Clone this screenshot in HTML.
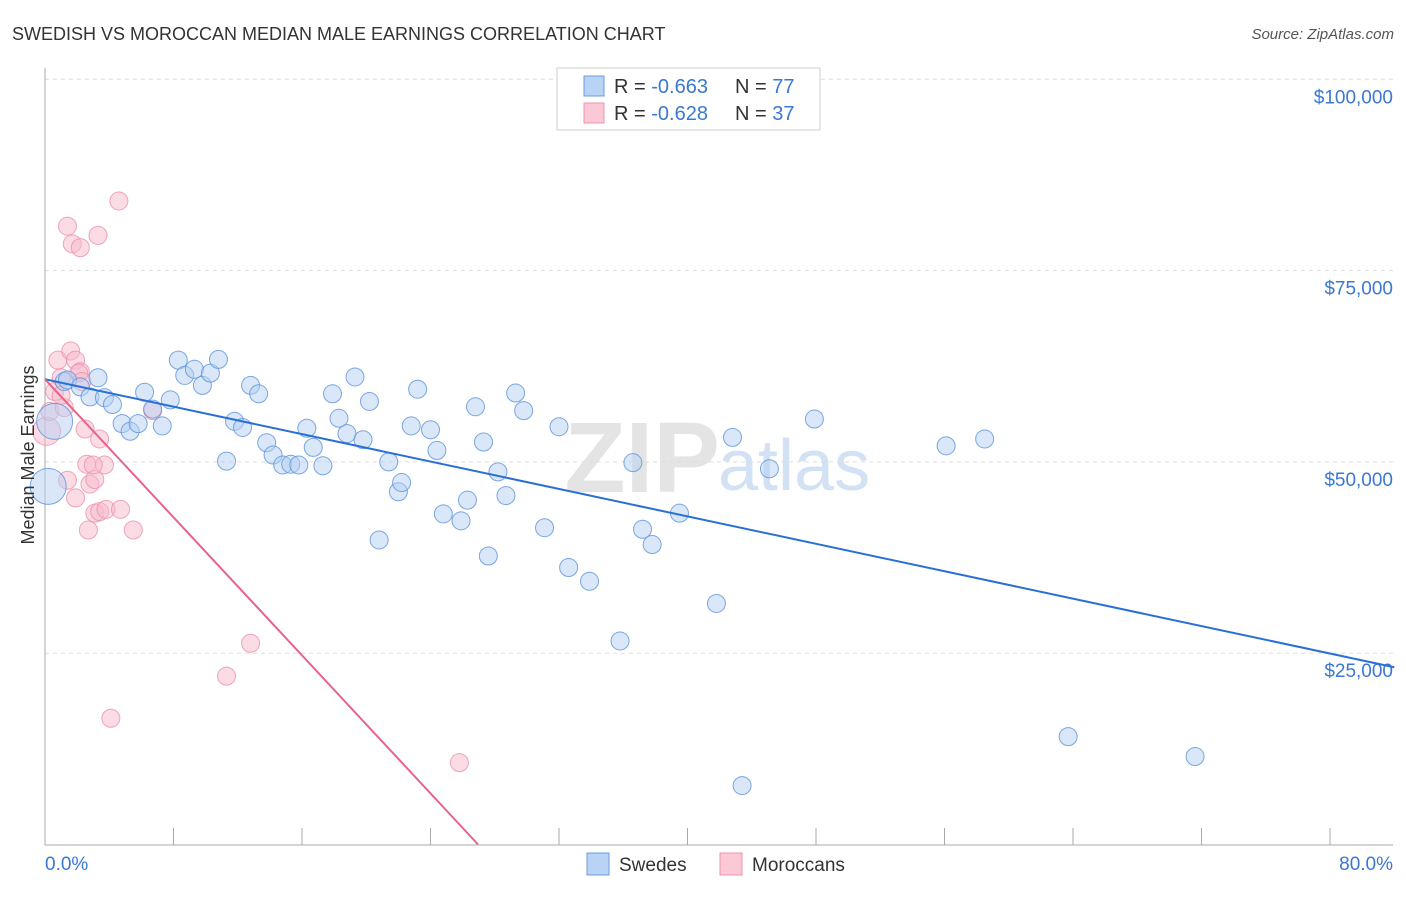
<!DOCTYPE html>
<html><head><meta charset="utf-8"><style>
body{margin:0;background:#fff;font-family:"Liberation Sans",sans-serif}
svg text{font-family:"Liberation Sans",sans-serif}
</style></head><body>
<svg id="c" width="1406" height="892" viewBox="0 0 1406 892">
<text x="12" y="40" font-size="18" fill="#333">SWEDISH VS MOROCCAN MEDIAN MALE EARNINGS CORRELATION CHART</text>
<text x="1394" y="39" font-size="15" fill="#555" font-style="italic" text-anchor="end">Source: ZipAtlas.com</text>
<text x="720" y="492" font-size="100" fill="#e4e4e4" text-anchor="end" font-family="Liberation Serif" font-weight="bold">ZIP</text>
<text x="718" y="490" font-size="72" fill="#d3e1f5">atlas</text>
<g id="grid"></g><g id="pts"></g><g id="lines"></g>
<text x="34" y="455" font-size="18" fill="#333" text-anchor="middle" transform="rotate(-90 34 455)">Median Male Earnings</text>
<g>
<rect x="557" y="68" width="263" height="62" fill="#fff" stroke="#ccc"/>
<rect x="584" y="76" width="20" height="20" fill="#b9d3f5" stroke="#6a9be0"/>
<text x="614" y="93" font-size="20" fill="#333">R = <tspan fill="#3a78d4">-0.663</tspan></text>
<text x="735" y="93" font-size="20" fill="#333">N = <tspan fill="#3a78d4">77</tspan></text>
<rect x="584" y="103" width="20" height="20" fill="#fbc9d6" stroke="#ec94ad"/>
<text x="614" y="120" font-size="20" fill="#333">R = <tspan fill="#3a78d4">-0.628</tspan></text>
<text x="735" y="120" font-size="20" fill="#333">N = <tspan fill="#3a78d4">37</tspan></text>
</g>
<g>
<rect x="587" y="853" width="22" height="22" fill="#b9d3f5" stroke="#6a9be0"/>
<text x="619" y="871" font-size="19" fill="#333">Swedes</text>
<rect x="720" y="853" width="22" height="22" fill="#fbc9d6" stroke="#ec94ad"/>
<text x="752" y="871" font-size="19" fill="#333">Moroccans</text>
</g>
</svg>
<script>
const xTicks=[0,8,16,24,32,40,48,56,64,72,80];
const yTicks=[25000,50000,75000,100000];
const yTickLabels=["$25,000","$50,000","$75,000","$100,000"];
const swedesX=[1.2,1.4,2.2,2.8,3.3,3.7,4.2,4.8,5.3,5.8,6.2,6.7,7.3,7.8,8.3,8.7,9.3,9.8,10.3,10.8,11.3,11.8,12.3,12.8,13.3,13.8,14.2,14.8,15.3,15.8,16.3,16.7,17.3,17.9,18.3,18.8,19.3,19.8,20.2,20.8,21.4,22.0,22.2,22.8,23.2,24.0,24.4,24.8,25.9,26.3,26.8,27.3,27.6,28.2,28.7,29.3,29.8,31.1,32.0,32.6,33.9,35.8,36.6,37.2,37.8,39.5,41.8,42.8,43.4,45.1,47.9,56.1,58.5,63.7,71.6,0.2,0.6];
const swedesY=[60500,60700,59800,58500,61000,58400,57500,55000,54000,55000,59100,56900,54700,58100,63300,61300,62100,60000,61600,63400,50100,55300,54500,60000,58900,52500,50900,49600,49700,49600,54400,51900,49500,58900,55700,53700,61100,52900,57900,39800,50000,46100,47300,54700,59500,54200,51500,43200,42300,45000,57200,52600,37700,48700,45600,59000,56700,41400,54600,36200,34400,26600,49900,41200,39200,43300,31500,53200,7700,49100,55600,52100,53000,14100,11500,46800,55300];
const morX=[0.1,0.3,0.6,0.8,1.0,1.2,1.4,1.6,1.7,1.9,2.2,2.2,2.5,2.6,2.7,2.8,3.1,3.1,3.3,3.4,3.4,3.7,3.8,4.1,4.6,4.7,5.5,6.7,11.3,12.8,25.8,1.9,2.1,1.0,2.3,1.4,3.0];
const morY=[54000,56600,59200,63300,61000,57100,80800,64500,78500,63300,78000,61800,54300,49700,41100,47100,47700,43300,79600,53000,43500,49600,43800,16500,84100,43800,41100,56700,22000,26300,10700,45300,61600,58700,60500,47600,49600];
const swedesTrend=[60800,-448];
const morTrend=[60800,-2255];
const X=v=>45+v/80*1285, Y=v=>844.5-v/25000*191.3;
const ns="http://www.w3.org/2000/svg";
function mk(t,a,p){const e=document.createElementNS(ns,t);for(const k in a)e.setAttribute(k,a[k]);p.appendChild(e);return e;}
const grid=document.getElementById('grid'),pts=document.getElementById('pts'),lines=document.getElementById('lines');
yTicks.forEach((t,i)=>{
 const l=mk('line',{x1:45,x2:1393,y1:Y(t),y2:Y(t),stroke:'#ddd','stroke-dasharray':'4 4'},grid);
 
 
 const tx=mk('text',{x:1393,y:Y(t)+24,'font-size':19,fill:'#3a78d4','text-anchor':'end'},grid);
 tx.textContent=yTickLabels[i];
 
 
});
const ax=mk('line',{x1:45,x2:45,y1:68,y2:845,stroke:'#aaa'},grid);


const bx=mk('line',{x1:45,x2:1393,y1:845,y2:845,stroke:'#aaa'},grid);


xTicks.forEach(t=>{
 const l=mk('line',{x1:X(t),x2:X(t),y1:828,y2:845,stroke:'#aaa'},grid);
 
 
});
[[0,"0.0%","start",45],[80,"80.0%","end",1393]].forEach(d=>{
 const tx=mk('text',{x:d[3],y:870,'font-size':19,fill:'#3a78d4','text-anchor':d[2]},grid);
 tx.textContent=d[1];
 
 
});
function dots(xs,ys,fill,stroke,name){xs.forEach((x,i)=>{
 let r=9;
 if(name==='swede-point'&&i>=xs.length-2)r=18;
 if(name==='moroccan-point'&&i===0)r=14;
 const c=mk('circle',{cx:X(x),cy:Y(ys[i]),r:r,fill:fill,'fill-opacity':0.5,stroke:stroke,'stroke-opacity':0.8},pts);
 
 
});}
dots(morX,morY,'#f8b9cb','#ec8fab','moroccan-point');
dots(swedesX,swedesY,'#b4cff3','#5b92dc','swede-point');
const [ba,bb]=swedesTrend;
const l1=mk('line',{x1:X(0),y1:Y(ba),x2:X(84),y2:Y(ba+bb*84),stroke:'#2a6fd6','stroke-width':2},lines);


const [ma,mb]=morTrend;
const xe=-ma/mb;
const l2=mk('line',{x1:X(0),y1:Y(ma),x2:X(xe),y2:Y(0),stroke:'#e8638b','stroke-width':2},lines);


</script>
</body></html>
